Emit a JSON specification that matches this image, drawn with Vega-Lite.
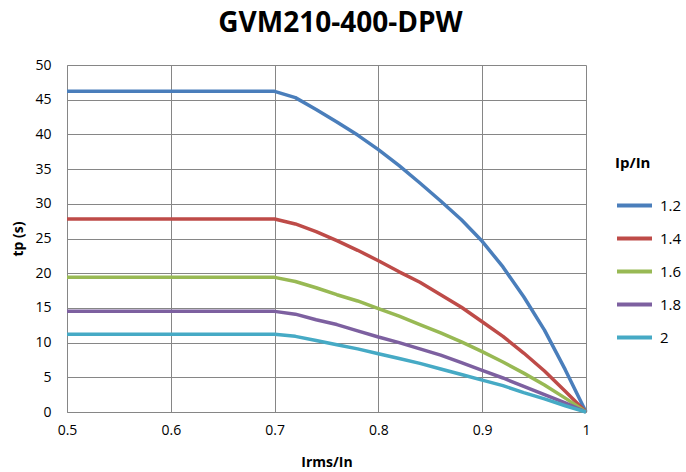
{
  "$schema": "https://vega.github.io/schema/vega-lite/v6.json",
  "width": 519,
  "height": 347,
  "autosize": {"type": "none"},
  "padding": {"left": 67, "top": 65, "right": 100, "bottom": 60},
  "background": "white",
  "title": {
    "text": "GVM210-400-DPW",
    "font": "Open Sans",
    "fontSize": 28,
    "fontWeight": "bold",
    "color": "#000000",
    "anchor": "middle",
    "offset": 20,
    "dx": 14
  },
  "config": {
    "view": {"stroke": null},
    "font": "Open Sans"
  },
  "data": {
    "values": [
      {"x": 0.5, "tp": 46.2, "k": "1.2"},
      {"x": 0.7, "tp": 46.2, "k": "1.2"},
      {"x": 0.72, "tp": 45.3, "k": "1.2"},
      {"x": 0.74, "tp": 43.6, "k": "1.2"},
      {"x": 0.76, "tp": 41.8, "k": "1.2"},
      {"x": 0.78, "tp": 39.9, "k": "1.2"},
      {"x": 0.8, "tp": 37.8, "k": "1.2"},
      {"x": 0.82, "tp": 35.5, "k": "1.2"},
      {"x": 0.84, "tp": 33.0, "k": "1.2"},
      {"x": 0.86, "tp": 30.4, "k": "1.2"},
      {"x": 0.88, "tp": 27.7, "k": "1.2"},
      {"x": 0.9, "tp": 24.6, "k": "1.2"},
      {"x": 0.92, "tp": 20.9, "k": "1.2"},
      {"x": 0.94, "tp": 16.6, "k": "1.2"},
      {"x": 0.96, "tp": 11.8, "k": "1.2"},
      {"x": 0.98, "tp": 6.1, "k": "1.2"},
      {"x": 1.0, "tp": 0, "k": "1.2"},

      {"x": 0.5, "tp": 27.8, "k": "1.4"},
      {"x": 0.7, "tp": 27.8, "k": "1.4"},
      {"x": 0.72, "tp": 27.1, "k": "1.4"},
      {"x": 0.74, "tp": 26.0, "k": "1.4"},
      {"x": 0.76, "tp": 24.7, "k": "1.4"},
      {"x": 0.78, "tp": 23.3, "k": "1.4"},
      {"x": 0.8, "tp": 21.8, "k": "1.4"},
      {"x": 0.82, "tp": 20.2, "k": "1.4"},
      {"x": 0.84, "tp": 18.7, "k": "1.4"},
      {"x": 0.86, "tp": 16.9, "k": "1.4"},
      {"x": 0.88, "tp": 15.1, "k": "1.4"},
      {"x": 0.9, "tp": 13.0, "k": "1.4"},
      {"x": 0.92, "tp": 10.9, "k": "1.4"},
      {"x": 0.94, "tp": 8.5, "k": "1.4"},
      {"x": 0.96, "tp": 5.9, "k": "1.4"},
      {"x": 0.98, "tp": 3.0, "k": "1.4"},
      {"x": 1.0, "tp": 0, "k": "1.4"},

      {"x": 0.5, "tp": 19.4, "k": "1.6"},
      {"x": 0.7, "tp": 19.4, "k": "1.6"},
      {"x": 0.72, "tp": 18.8, "k": "1.6"},
      {"x": 0.74, "tp": 17.9, "k": "1.6"},
      {"x": 0.76, "tp": 16.9, "k": "1.6"},
      {"x": 0.78, "tp": 16.0, "k": "1.6"},
      {"x": 0.8, "tp": 14.9, "k": "1.6"},
      {"x": 0.82, "tp": 13.8, "k": "1.6"},
      {"x": 0.84, "tp": 12.6, "k": "1.6"},
      {"x": 0.86, "tp": 11.4, "k": "1.6"},
      {"x": 0.88, "tp": 10.1, "k": "1.6"},
      {"x": 0.9, "tp": 8.7, "k": "1.6"},
      {"x": 0.92, "tp": 7.2, "k": "1.6"},
      {"x": 0.94, "tp": 5.6, "k": "1.6"},
      {"x": 0.96, "tp": 3.9, "k": "1.6"},
      {"x": 0.98, "tp": 2.0, "k": "1.6"},
      {"x": 1.0, "tp": 0, "k": "1.6"},

      {"x": 0.5, "tp": 14.5, "k": "1.8"},
      {"x": 0.7, "tp": 14.5, "k": "1.8"},
      {"x": 0.72, "tp": 14.1, "k": "1.8"},
      {"x": 0.74, "tp": 13.3, "k": "1.8"},
      {"x": 0.76, "tp": 12.6, "k": "1.8"},
      {"x": 0.78, "tp": 11.7, "k": "1.8"},
      {"x": 0.8, "tp": 10.8, "k": "1.8"},
      {"x": 0.82, "tp": 10.0, "k": "1.8"},
      {"x": 0.84, "tp": 9.1, "k": "1.8"},
      {"x": 0.86, "tp": 8.2, "k": "1.8"},
      {"x": 0.88, "tp": 7.1, "k": "1.8"},
      {"x": 0.9, "tp": 6.0, "k": "1.8"},
      {"x": 0.92, "tp": 4.9, "k": "1.8"},
      {"x": 0.94, "tp": 3.7, "k": "1.8"},
      {"x": 0.96, "tp": 2.5, "k": "1.8"},
      {"x": 0.98, "tp": 1.3, "k": "1.8"},
      {"x": 1.0, "tp": 0, "k": "1.8"},

      {"x": 0.5, "tp": 11.2, "k": "2"},
      {"x": 0.7, "tp": 11.2, "k": "2"},
      {"x": 0.72, "tp": 10.9, "k": "2"},
      {"x": 0.74, "tp": 10.3, "k": "2"},
      {"x": 0.76, "tp": 9.7, "k": "2"},
      {"x": 0.78, "tp": 9.1, "k": "2"},
      {"x": 0.8, "tp": 8.4, "k": "2"},
      {"x": 0.82, "tp": 7.7, "k": "2"},
      {"x": 0.84, "tp": 7.0, "k": "2"},
      {"x": 0.86, "tp": 6.2, "k": "2"},
      {"x": 0.88, "tp": 5.4, "k": "2"},
      {"x": 0.9, "tp": 4.6, "k": "2"},
      {"x": 0.92, "tp": 3.8, "k": "2"},
      {"x": 0.94, "tp": 2.8, "k": "2"},
      {"x": 0.96, "tp": 1.9, "k": "2"},
      {"x": 0.98, "tp": 0.9, "k": "2"},
      {"x": 1.0, "tp": 0, "k": "2"}
    ]
  },
  "mark": {"type": "line", "strokeWidth": 3.5, "strokeCap": "butt", "strokeJoin": "round", "clip": false},
  "encoding": {
    "x": {
      "field": "x",
      "type": "quantitative",
      "scale": {"domain": [0.5, 1], "nice": false, "zero": false},
      "axis": {
        "title": "Irms/In",
        "values": [0.5, 0.6, 0.7, 0.8, 0.9, 1.0],
        "format": "~g",
        "grid": true,
        "gridColor": "#868686",
        "gridOpacity": 1,
        "gridWidth": 1,
        "domainColor": "#868686",
        "domainWidth": 1,
        "ticks": false,
        "labelFont": "Open Sans",
        "labelFontSize": 14,
        "labelColor": "#000000",
        "labelPadding": 11,
        "labelFlush": false,
        "titleFont": "Open Sans",
        "titleFontSize": 14,
        "titleFontWeight": "bold",
        "titleColor": "#000000",
        "titlePadding": 18
      }
    },
    "y": {
      "field": "tp",
      "type": "quantitative",
      "scale": {"domain": [0, 50], "nice": false},
      "axis": {
        "title": "tp (s)",
        "values": [0, 5, 10, 15, 20, 25, 30, 35, 40, 45, 50],
        "grid": true,
        "gridColor": "#868686",
        "gridOpacity": 1,
        "gridWidth": 1,
        "domainColor": "#868686",
        "domainWidth": 1,
        "ticks": false,
        "labelFont": "Open Sans",
        "labelFontSize": 14,
        "labelColor": "#000000",
        "labelPadding": 16,
        "labelFlush": false,
        "titleFont": "Open Sans",
        "titleFontSize": 14,
        "titleFontWeight": "bold",
        "titleColor": "#000000",
        "titlePadding": 9
      }
    },
    "color": {
      "field": "k",
      "type": "nominal",
      "scale": {
        "domain": ["1.2", "1.4", "1.6", "1.8", "2"],
        "range": ["#4A7EBB", "#BE4B48", "#98B954", "#7D60A0", "#46AAC5"]
      },
      "legend": {
        "title": "Ip/In",
        "orient": "none",
        "legendX": 548,
        "legendY": 91,
        "titleFont": "Open Sans",
        "titleFontSize": 15,
        "titleFontWeight": "bold",
        "titleColor": "#000000",
        "titlePadding": 15,
        "titleAnchor": "start",
        "symbolType": "stroke",
        "symbolSize": 1225,
        "symbolStrokeWidth": 4,
        "labelFont": "Open Sans",
        "labelFontSize": 15,
        "labelColor": "#000000",
        "labelOffset": 6,
        "rowPadding": 5
      }
    }
  }
}
